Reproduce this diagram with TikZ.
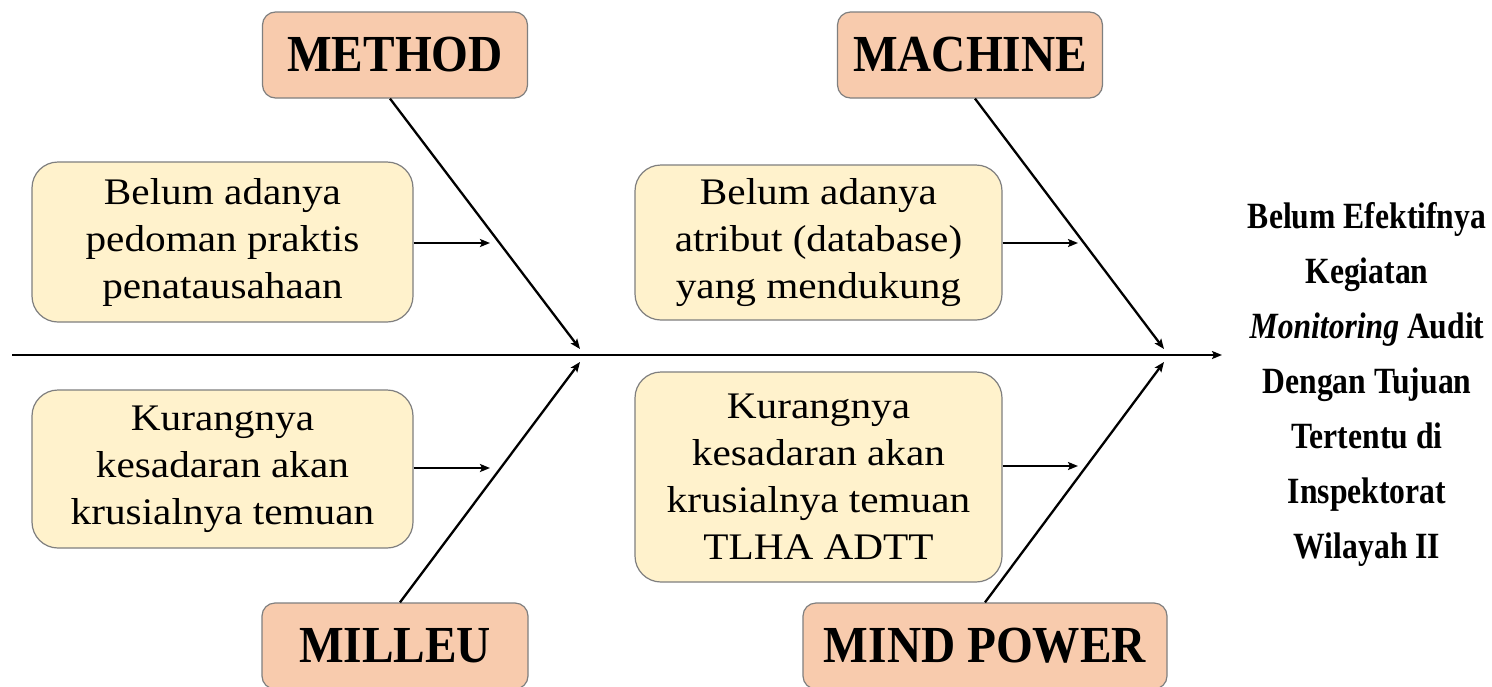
\documentclass[tikz,border=0pt]{standalone}
\usepackage{fontspec}
\setmainfont{Liberation Serif}
\newfontfamily\headingfont[FakeStretch=0.91]{Liberation Serif}
\newfontfamily\causefont[FakeStretch=1.1]{Liberation Serif}
\newfontfamily\effectfont[FakeStretch=0.855]{Liberation Serif}
\usetikzlibrary{arrows.meta}
\definecolor{labelfill}{HTML}{F8CBAD}
\definecolor{causefill}{HTML}{FFF2CC}
\definecolor{edgegray}{HTML}{7F7F7F}
\tikzset{
  category/.style={draw=edgegray, line width=1.2pt, fill=labelfill, rounded corners=13pt,
    minimum height=86pt, inner sep=0pt, font=\headingfont\fontsize{52}{56}\selectfont\bfseries},
  cause/.style={draw=edgegray, line width=1.2pt, fill=causefill, rounded corners=26pt,
    inner sep=0pt, align=center, font=\causefont\fontsize{37.5}{47}\selectfont,
    execute at begin node={\rule{0pt}{42pt}}},
  bone/.style={line width=2.3pt, -{Stealth[length=10pt,width=8pt,inset=2pt]}},
  effect/.style={align=center, font=\effectfont\fontsize{37}{55}\selectfont\bfseries}
}
\begin{document}
\begin{tikzpicture}[x=1pt,y=-1pt]
\useasboundingbox (0,0) rectangle (1492,686);
\fill[white] (0,0) rectangle (1492,686);

% category headings
\node[category, minimum width=265pt] (method)  at (395,55)  {METHOD};
\node[category, minimum width=265pt] (machine) at (970,55)  {MACHINE};
\node[category, minimum width=266pt] (milleu)  at (395,646) {MILLEU};
\node[category, minimum width=364pt] (mind)    at (985,646) {MIND POWER};

% causes
\node[cause, minimum width=381pt, minimum height=160pt] (c1) at (222.5,242)
  {Belum adanya\\pedoman praktis\\penatausahaan};
\node[cause, minimum width=367pt, minimum height=155pt] (c2) at (818.5,242.5)
  {Belum adanya\\atribut (database)\\yang mendukung};
\node[cause, minimum width=381pt, minimum height=158pt] (c3) at (222.5,469)
  {Kurangnya\\kesadaran akan\\krusialnya temuan};
\node[cause, minimum width=367pt, minimum height=210pt] (c4) at (818.5,477)
  {Kurangnya\\kesadaran akan\\krusialnya temuan\\TLHA ADTT};

% effect
\node[effect] (effect) at (1367,384)
  {Belum Efektifnya\\Kegiatan\\\textit{Monitoring} Audit\\Dengan Tujuan\\Tertentu di\\Inspektorat\\Wilayah II};

% spine and bones
\coordinate (spineL) at (12,355);
\coordinate (spineR) at (1222,355);
\coordinate (tipM)  at (580,349);
\coordinate (tipMa) at (1164,349);
\coordinate (tipMi) at (580,362);
\coordinate (tipMp) at (1164,362);
\coordinate (a1) at (490,243);
\coordinate (a2) at (1078,243);
\coordinate (a3) at (490,468);
\coordinate (a4) at (1078,466);

\draw[bone] (spineL) -- (spineR);
\draw[bone] ([xshift=-5pt]method.south) -- (tipM);
\draw[bone] ([xshift=5pt]machine.south) -- (tipMa);
\draw[bone] ([xshift=5pt]milleu.north) -- (tipMi);
\draw[bone] (mind.north) -- (tipMp);

\draw[bone] (c1.east |- a1) -- (a1);
\draw[bone] (c2.east |- a2) -- (a2);
\draw[bone] (c3.east |- a3) -- (a3);
\draw[bone] (c4.east |- a4) -- (a4);
\end{tikzpicture}
\end{document}
